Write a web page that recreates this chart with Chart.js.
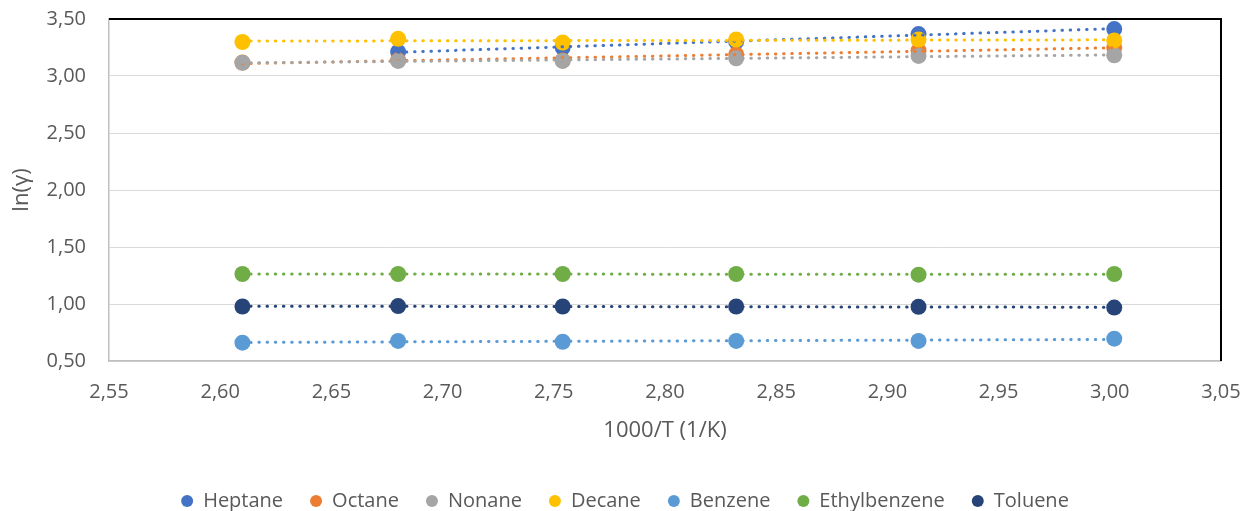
<!DOCTYPE html>
<html><head><meta charset="utf-8">
<script src="https://cdn.jsdelivr.net/npm/chart.js@4/dist/chart.umd.min.js"></script>
<style>html,body{margin:0;padding:0;background:#fff}canvas{display:block}</style>
</head><body>
<canvas id="c" width="1245" height="511"></canvas>
<script>
// ---- data ----
const xValues = [2.610, 2.680, 2.754, 2.832, 2.914, 3.002];
const seriesNames = ['Heptane', 'Octane', 'Nonane', 'Decane', 'Benzene', 'Ethylbenzene', 'Toluene'];
const heptane      = [null,  3.212, 3.250, 3.302, 3.368, 3.412];
const octane       = [3.118, 3.138, 3.136, 3.190, 3.222, 3.250];
const nonane       = [3.116, 3.132, 3.132, 3.155, 3.176, 3.182];
const decane       = [3.298, 3.326, 3.294, 3.320, 3.320, 3.312];
const benzene      = [0.661, 0.676, 0.669, 0.676, 0.676, 0.696];
const ethylbenzene = [1.263, 1.263, 1.263, 1.263, 1.257, 1.263];
const toluene      = [0.978, 0.982, 0.978, 0.978, 0.975, 0.969];
const xTicks = [2.55, 2.60, 2.65, 2.70, 2.75, 2.80, 2.85, 2.90, 2.95, 3.00, 3.05];
const yTicks = [0.50, 1.00, 1.50, 2.00, 2.50, 3.00, 3.50];
const colors = ['#4472C4', '#ED7D31', '#A5A5A5', '#FFC000', '#5B9BD5', '#70AD47', '#264478'];
const seriesValues = [heptane, octane, nonane, decane, benzene, ethylbenzene, toluene];

const FONT = "'Open Sans', sans-serif";
const TXT = '#595959';
const fmt = v => Number(v).toFixed(2).replace('.', ',');

function toPoints(vals) {
  const pts = [];
  vals.forEach((v, i) => { if (v !== null && v !== undefined) pts.push({x: xValues[i], y: v}); });
  return pts;
}
function trend(pts) {
  const n = pts.length;
  const mx = pts.reduce((s, p) => s + p.x, 0) / n;
  const my = pts.reduce((s, p) => s + p.y, 0) / n;
  let sxy = 0, sxx = 0;
  pts.forEach(p => { sxy += (p.x - mx) * (p.y - my); sxx += (p.x - mx) * (p.x - mx); });
  const b = sxy / sxx, a = my - b * mx;
  const x0 = Math.min(...pts.map(p => p.x)), x1 = Math.max(...pts.map(p => p.x));
  return [{x: x0, y: a + b * x0}, {x: x1, y: a + b * x1}];
}

const datasets = [];
seriesValues.forEach((vals, i) => {
  datasets.push({
    label: seriesNames[i],
    data: toPoints(vals),
    backgroundColor: colors[i],
    borderColor: colors[i],
    borderWidth: 0,
    pointRadius: 8,
    pointHoverRadius: 8,
    pointStyle: 'circle',
    showLine: false,
    order: 20 - i
  });
});
seriesValues.forEach((vals, i) => {
  datasets.push({
    label: seriesNames[i] + ' trend',
    data: trend(toPoints(vals)),
    borderColor: colors[i],
    backgroundColor: colors[i],
    borderWidth: 3,
    borderDash: [0.5, 7.7],
    borderCapStyle: 'round',
    pointRadius: 0,
    pointHoverRadius: 0,
    showLine: true,
    fill: false,
    order: 6 - i
  });
});

const framePlugin = {
  id: 'frame',
  afterLayout(chart) {
    const lg = chart.legend;
    if (lg) {
      const shift = 625 - (lg.left + lg.right) / 2;
      lg.left += shift; lg.right += shift;
    }
  },
  afterDraw(chart) {
    const {ctx, chartArea: a} = chart;
    ctx.save();
    ctx.strokeStyle = '#000';
    ctx.lineWidth = 2;
    ctx.beginPath();
    ctx.moveTo(a.left, a.top);
    ctx.lineTo(a.right, a.top);
    ctx.lineTo(a.right, a.bottom);
    ctx.stroke();
    ctx.restore();
  }
};

new Chart(document.getElementById('c'), {
  type: 'scatter',
  data: {datasets},
  plugins: [framePlugin],
  options: {
    responsive: false,
    animation: false,
    events: [],
    devicePixelRatio: 1,
    layout: {padding: {top: 19, right: 24, bottom: -10, left: 0}},
    plugins: {
      tooltip: {enabled: false},
      legend: {
        position: 'bottom',
        labels: {
          usePointStyle: true,
          pointStyle: 'circle',
          boxHeight: 8.5,
          pointStyleWidth: 12,
          padding: 27,
          color: TXT,
          font: {family: FONT, size: 20},
          filter: item => item.datasetIndex < 7,
          sort: (a, b) => a.datasetIndex - b.datasetIndex
        }
      }
    },
    scales: {
      x: {
        type: 'linear',
        min: 2.55, max: 3.05,
        afterBuildTicks: s => { s.ticks = xTicks.map(v => ({value: v})); },
        afterFit: s => { s.height = 103; s.paddingLeft = 0; s.paddingRight = 0; },
        grid: {display: false, drawTicks: false},
        border: {display: true, color: '#BFBFBF', width: 1.5},
        ticks: {padding: 19, color: TXT, font: {family: FONT, size: 20}, callback: v => fmt(v), maxRotation: 0, autoSkip: false},
        title: {display: true, text: '1000/T (1/K)', color: TXT, font: {family: FONT, size: 22}, padding: {top: 20, bottom: 20}}
      },
      y: {
        type: 'linear',
        min: 0.5, max: 3.5,
        afterBuildTicks: s => { s.ticks = yTicks.map(v => ({value: v})); },
        afterFit: s => { s.width = 109; s.paddingTop = 0; s.paddingBottom = 0; },
        grid: {color: '#D9D9D9', lineWidth: 1, drawTicks: false},
        border: {display: true, color: '#BFBFBF', width: 1.5},
        ticks: {padding: 23, color: TXT, font: {family: FONT, size: 20}, callback: v => fmt(v)},
        title: {display: true, text: 'ln(γ)', color: TXT, font: {family: FONT, size: 22}, padding: {top: 9, bottom: 9}}
      }
    }
  }
});
</script>
</body></html>
